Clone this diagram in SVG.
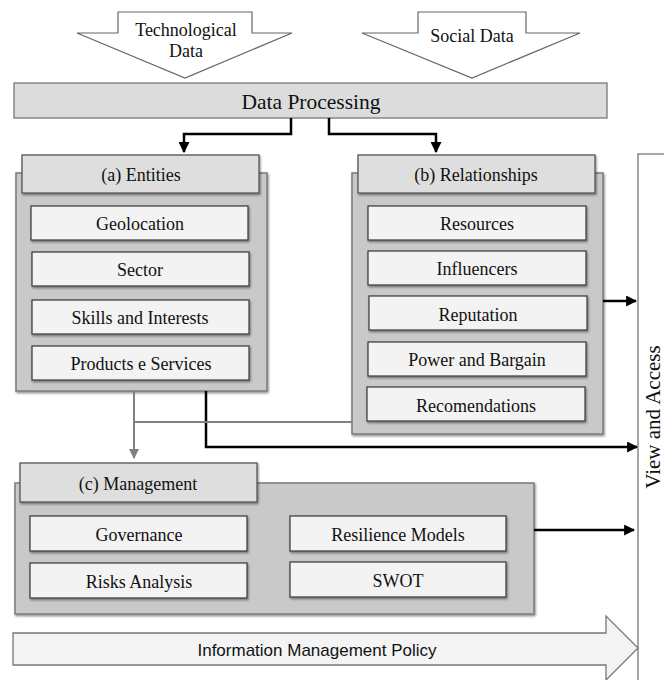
<svg xmlns="http://www.w3.org/2000/svg" width="664" height="680" viewBox="0 0 664 680">
  <defs>
    <filter id="shadow" x="-5%" y="-5%" width="115%" height="125%">
      <feDropShadow dx="1" dy="1.5" stdDeviation="0.8" flood-color="#000" flood-opacity="0.45"/>
    </filter>
    <marker id="arrowBlack" viewBox="0 0 10 10" refX="9" refY="5" markerWidth="11" markerHeight="11" markerUnits="userSpaceOnUse" orient="auto">
      <path d="M0,0 L10,5 L0,10 Z" fill="#000"/>
    </marker>
    <marker id="arrowGray" viewBox="0 0 10 10" refX="9" refY="5" markerWidth="10" markerHeight="10" markerUnits="userSpaceOnUse" orient="auto">
      <path d="M0,0 L10,5 L0,10 Z" fill="#808080"/>
    </marker>
  </defs>
  <style>
    text { font-family: "Liberation Serif", "Times New Roman", serif; fill: #111; text-anchor: middle; }
    .item { font-size: 18px; }
    .head { font-size: 18px; }
    .outer { fill: #c9c9c9; stroke: #7a7a7a; stroke-width: 1.5; filter: url(#shadow); }
    .header { fill: #dedede; stroke: #555; stroke-width: 1.3; filter: url(#shadow); }
    .box { fill: #f3f3f3; stroke: #444; stroke-width: 1.3; filter: url(#shadow); }
    .inArrow { fill: #fff; stroke: #666; stroke-width: 1.2; }
    .conn { fill: none; stroke: #000; stroke-width: 2.5; }
    .connGray { fill: none; stroke: #808080; stroke-width: 2; }
  </style>

  <rect width="664" height="680" fill="#fff"/>

  <!-- incoming data arrows -->
  <g id="tech-data">
    <polygon class="inArrow" points="118,12 252,12 252,33 292,33 185,78 77,33 118,33"/>
    <text x="186" y="36" font-size="18">Technological</text>
    <text x="186" y="57" font-size="18">Data</text>
  </g>
  <g id="social-data">
    <polygon class="inArrow" points="418,12 526,12 526,33 580,33 472,78 362,33 418,33"/>
    <text x="472" y="42" font-size="18">Social Data</text>
  </g>

  <!-- processing bar -->
  <g id="data-processing">
    <rect x="14" y="83" width="593" height="35" fill="#dcdcdc" stroke="#777" stroke-width="1.3"/>
    <text x="311" y="109" font-size="21.5">Data Processing</text>
  </g>

  <!-- view and access column -->
  <g id="view-access">
    <rect x="638" y="154" width="40" height="540" fill="#fff" stroke="#777" stroke-width="1.3"/>
    <text transform="translate(660,417) rotate(-90)" font-size="21">View and Access</text>
  </g>

  <!-- information policy band -->
  <g id="info-policy">
    <polygon points="13,633 606,633 606,616 638,648 606,680 606,665 13,665" fill="#f4f4f4" stroke="#777" stroke-width="1.3"/>
    <text x="317" y="656" font-size="17" style="font-family: 'Liberation Sans', Arial, sans-serif;">Information Management Policy</text>
  </g>

  <!-- (a) entities -->
  <g id="entities">
    <rect class="outer" x="16" y="173" width="251" height="218"/>
    <rect class="header" x="22" y="155" width="237" height="38"/>
    <text class="head" x="141" y="181">(a) Entities</text>
    <rect class="box" x="31" y="206" width="217" height="34"/>
    <text class="item" x="140" y="230">Geolocation</text>
    <rect class="box" x="32" y="252" width="217" height="34"/>
    <text class="item" x="140" y="276">Sector</text>
    <rect class="box" x="32" y="300" width="217" height="34"/>
    <text class="item" x="140" y="324">Skills and Interests</text>
    <rect class="box" x="32" y="346" width="217" height="34"/>
    <text class="item" x="141" y="370">Products e Services</text>
  </g>

  <!-- (b) relationships -->
  <g id="relationships">
    <rect class="outer" x="352" y="173" width="251" height="261"/>
    <rect class="header" x="358" y="155" width="237" height="38"/>
    <text class="head" x="476" y="181">(b) Relationships</text>
    <rect class="box" x="368" y="206" width="218" height="34"/>
    <text class="item" x="477" y="230">Resources</text>
    <rect class="box" x="368" y="251" width="218" height="34"/>
    <text class="item" x="477" y="275">Influencers</text>
    <rect class="box" x="369" y="296" width="218" height="34"/>
    <text class="item" x="478" y="321">Reputation</text>
    <rect class="box" x="368" y="342" width="218" height="34"/>
    <text class="item" x="477" y="366">Power and Bargain</text>
    <rect class="box" x="367" y="387" width="218" height="34"/>
    <text class="item" x="476" y="412">Recomendations</text>
  </g>

  <!-- (c) management -->
  <g id="management">
    <rect class="outer" x="15" y="483" width="519" height="131"/>
    <rect class="header" x="20" y="463" width="237" height="39"/>
    <text class="head" x="138" y="490">(c) Management</text>
    <rect class="box" x="30" y="516" width="217" height="35"/>
    <text class="item" x="139" y="541">Governance</text>
    <rect class="box" x="30" y="563" width="217" height="35"/>
    <text class="item" x="139" y="588">Risks Analysis</text>
    <rect class="box" x="290" y="516" width="216" height="35"/>
    <text class="item" x="398" y="541">Resilience Models</text>
    <rect class="box" x="290" y="562" width="216" height="35"/>
    <text class="item" x="398" y="587">SWOT</text>
  </g>

  <!-- connectors -->
  <g id="connectors">
    <polyline class="conn" points="291,118 291,134 184,134 184,152" marker-end="url(#arrowBlack)"/>
    <polyline class="conn" points="329,118 329,134 436,134 436,152" marker-end="url(#arrowBlack)"/>
    <line class="conn" x1="603" y1="301" x2="636" y2="301" marker-end="url(#arrowBlack)"/>
    <polyline class="conn" points="206,391 206,447 637,447" marker-end="url(#arrowBlack)"/>
    <line class="conn" x1="534" y1="530" x2="634" y2="530" marker-end="url(#arrowBlack)"/>
    <line class="connGray" x1="352" y1="422" x2="134" y2="422"/>
    <line class="connGray" x1="134" y1="391" x2="134" y2="458" marker-end="url(#arrowGray)"/>
  </g>
</svg>
